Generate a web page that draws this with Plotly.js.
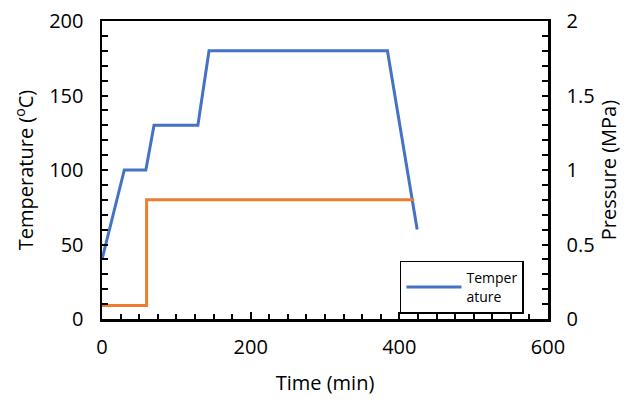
<!DOCTYPE html>
<html>
<head>
<meta charset="utf-8">
<script src="https://cdn.plot.ly/plotly-3.0.1.min.js"></script>
<style>html,body{margin:0;padding:0;background:#fff;}#chart{width:626px;height:403px;}</style>
</head>
<body>
<div id="chart"></div>
<script>
const timeT = [0, 30, 59, 70, 129, 144, 384, 424];
const temperature = [40, 100, 100, 130, 130, 180, 180, 60];
const timeP = [0, 60, 60, 420];
const pressure = [0.09, 0.09, 0.8, 0.8];

const FONT = "Open Sans, Noto Sans, sans-serif";
const data = [
  {x: timeT, y: temperature, type: 'scatter', mode: 'lines', name: 'Temper<br>ature',
   line: {color: '#4472C4', width: 3}},
  {x: timeP, y: pressure, type: 'scatter', mode: 'lines', name: 'Pressure', yaxis: 'y2',
   showlegend: false, line: {color: '#ED7D31', width: 3}}
];
const layout = {
  width: 626, height: 403,
  margin: {l: 102, r: 78, t: 21, b: 84},
  paper_bgcolor: '#fff', plot_bgcolor: '#fff',
  font: {family: FONT, size: 20, color: '#000'},
  showlegend: true,
  xaxis: {range: [0, 600], dtick: 200, tick0: 0, showgrid: false, zeroline: false,
    showline: true, linecolor: '#000', linewidth: 2.5, mirror: true,
    ticks: 'inside', ticklen: 7, tickwidth: 2, tickcolor: '#000',
    minor: {dtick: 25, ticks: 'inside', ticklen: 5, tickwidth: 2, tickcolor: '#000', showgrid: false},
    ticklabelstandoff: 8,
    title: {text: 'Time (min)', font: {size: 20}, standoff: 18}},
  yaxis: {range: [0, 200], dtick: 50, showgrid: false, zeroline: false,
    showline: true, linecolor: '#000', linewidth: 2.5,
    ticks: 'inside', ticklen: 6, tickwidth: 2, tickcolor: '#000',
    minor: {dtick: 10, ticks: 'inside', ticklen: 6, tickwidth: 2, tickcolor: '#000', showgrid: false},
    ticklabelstandoff: 12,
    title: {text: 'Temperature (<sup>o</sup>C)', font: {size: 20}, standoff: 10}},
  yaxis2: {range: [0, 2], dtick: 0.5, overlaying: 'y', side: 'right', showgrid: false, zeroline: false,
    showline: true, linecolor: '#000', linewidth: 2.5,
    ticks: 'inside', ticklen: 6, tickwidth: 2, tickcolor: '#000',
    minor: {dtick: 0.1, ticks: 'inside', ticklen: 6, tickwidth: 2, tickcolor: '#000', showgrid: false},
    ticklabelstandoff: 12,
    title: {text: 'Pressure (MPa)', font: {size: 20}, standoff: 4}},
  legend: {x: 0.668, y: 0.195, xanchor: 'left', yanchor: 'top',
    bordercolor: '#000', borderwidth: 1.5, bgcolor: '#fff', itemwidth: 55,
    font: {family: FONT, size: 14, color: '#000'}}
};
Plotly.newPlot('chart', data, layout, {displayModeBar: false, staticPlot: true});
</script>
</body>
</html>
